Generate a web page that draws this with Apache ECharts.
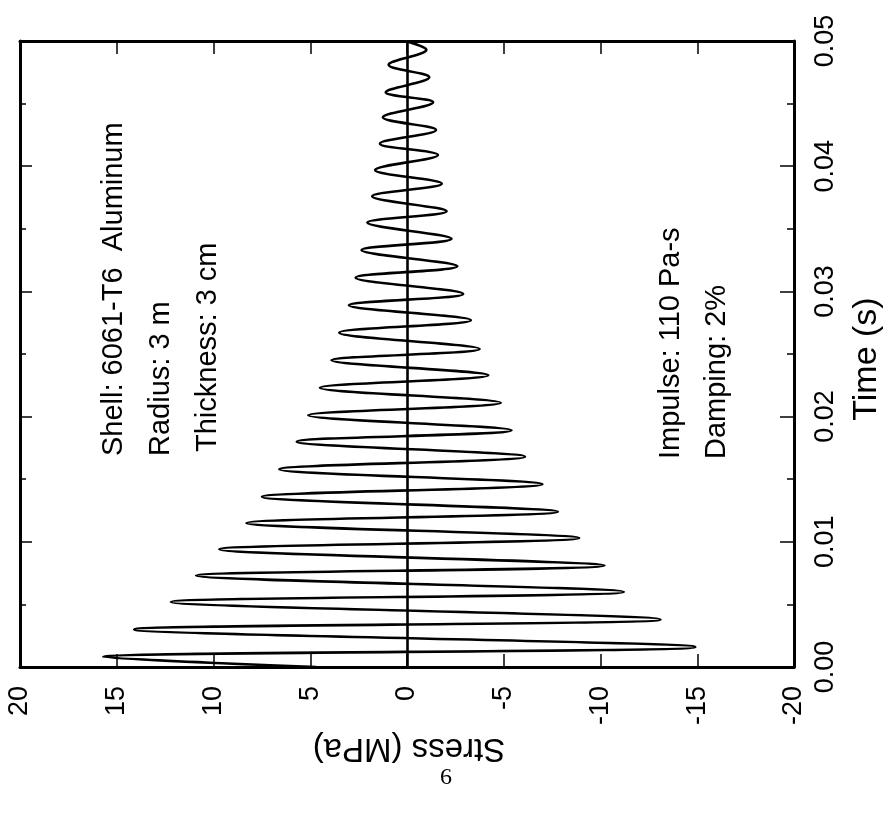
<!DOCTYPE html>
<html>
<head>
<meta charset="utf-8">
<script src="https://cdn.jsdelivr.net/npm/echarts@6/dist/echarts.min.js"></script>
<style>
  html, body { margin: 0; padding: 0; background: #fff; }
  #chart { width: 891px; height: 835px; }
</style>
</head>
<body>
<div id="chart"></div>
<script>
// ---- Data ----
// Time axis (s) and stress axis (MPa)
const timeTicks = [0, 0.01, 0.02, 0.03, 0.04, 0.05];
const stressTicks = [20, 15, 10, 5, 0, -5, -10, -15, -20];

// Start and end of the trace
const startPoint = [0.0, 4.7];     // [time, stress]
const endPoint = [0.05, 0.1];

// Positive (tensile) peaks
const posPeakTime = [0.0008, 0.0030, 0.0052, 0.0073, 0.0094, 0.0115, 0.0136, 0.0158, 0.0180, 0.0201,
                     0.0223, 0.0245, 0.0267, 0.0289, 0.0311, 0.0333, 0.0355, 0.0376, 0.0397, 0.0418,
                     0.0439, 0.0459, 0.0481];
const posPeakStress = [15.7, 14.1, 12.2, 10.9, 9.7, 8.3, 7.5, 6.6, 5.7, 5.1,
                       4.5, 3.9, 3.5, 3.0, 2.65, 2.35, 2.05, 1.8, 1.65, 1.4,
                       1.25, 1.1, 0.95];

// Negative (compressive) peaks
const negPeakTime = [0.0016, 0.0038, 0.0060, 0.0081, 0.0103, 0.0124, 0.0146, 0.0168, 0.0189, 0.0211,
                     0.0233, 0.0254, 0.0277, 0.0298, 0.0320, 0.0342, 0.0364, 0.0386, 0.0409, 0.0429,
                     0.0451, 0.0471, 0.0493];
const negPeakStress = [-14.9, -13.1, -11.2, -10.2, -8.9, -7.8, -7.0, -6.1, -5.4, -4.85,
                       -4.2, -3.75, -3.3, -2.9, -2.6, -2.3, -2.05, -1.8, -1.6, -1.5,
                       -1.35, -1.15, -1.0];

// Annotation texts
const noteLeft = ['Shell: 6061-T6  Aluminum', 'Radius: 3 m', 'Thickness: 3 cm'];
const noteRight = ['Impulse: 110 Pa-s', 'Damping: 2%'];
const xTitle = 'Time (s)';
const yTitle = 'Stress (MPa)';
const pageNo = '6';

// ---- Build series data (stress on horizontal axis, time on vertical) ----
const pts = [startPoint];
posPeakTime.forEach((t, i) => pts.push([t, posPeakStress[i]]));
negPeakTime.forEach((t, i) => pts.push([t, negPeakStress[i]]));
pts.push(endPoint);
pts.sort((a, b) => a[0] - b[0]);
const seriesData = pts.map(p => [p[1], p[0]]);

const FONT = '"Liberation Sans", Arial, Helvetica, sans-serif';
const black = '#000';

const chart = echarts.init(document.getElementById('chart'), null, { renderer: 'canvas' });

const stressAxisBase = {
  type: 'value', min: -20, max: 20, interval: 5, inverse: true,
  axisLine: { show: true, onZero: false, lineStyle: { color: black, width: 3 } },
  axisTick: { show: true, inside: true, length: 13, lineStyle: { color: black, width: 1.5 } },
  splitLine: { show: false }
};
const timeAxisBase = {
  type: 'value', min: 0, max: 0.05, interval: 0.01,
  axisLine: { show: true, onZero: false, lineStyle: { color: black, width: 3 } },
  axisTick: { show: true, inside: true, length: 14, lineStyle: { color: black, width: 1.5 } },
  minorTick: { show: true, splitNumber: 2, length: 7, lineStyle: { color: black, width: 1.5 } },
  splitLine: { show: false }, minorSplitLine: { show: false }
};

const option = {
  backgroundColor: '#fff',
  animation: false,
  grid: { left: 20, right: 97, top: 41, bottom: 168, containLabel: false },
  xAxis: [
    Object.assign({}, stressAxisBase, {
      position: 'bottom',
      axisLabel: { show: true, rotate: 90, margin: 19, fontSize: 27, fontFamily: FONT, color: black,
                   formatter: v => String(v) }
    }),
    Object.assign({}, stressAxisBase, { position: 'top', axisLabel: { show: false } })
  ],
  yAxis: [
    Object.assign({}, timeAxisBase, {
      position: 'right',
      axisLabel: { show: true, rotate: 90, margin: 18, fontSize: 27, fontFamily: FONT, color: black,
                   formatter: v => v.toFixed(2) }
    }),
    Object.assign({}, timeAxisBase, { position: 'left', axisLabel: { show: false },
      axisTick: { show: true, inside: true, length: 12, lineStyle: { color: black, width: 1.5 } },
      minorTick: { show: true, splitNumber: 2, length: 6, lineStyle: { color: black, width: 1.5 } } })
  ],
  series: [{
    type: 'line',
    xAxisIndex: 0, yAxisIndex: 0,
    data: seriesData,
    smooth: 0.36,
    symbol: 'none',
    clip: true,
    lineStyle: { color: black, width: 2.6 },
    markLine: {
      silent: true, symbol: 'none', animation: false,
      label: { show: false },
      lineStyle: { color: black, width: 2.6, type: 'solid' },
      data: [{ xAxis: 0 }]
    }
  }],
  graphic: [
    { type: 'text', x: 114, y: 456, rotation: Math.PI / 2,
      style: { text: noteLeft[0], font: '29px ' + FONT, fill: black, align: 'left', verticalAlign: 'middle' } },
    { type: 'text', x: 161, y: 456, rotation: Math.PI / 2,
      style: { text: noteLeft[1], font: '29px ' + FONT, fill: black, align: 'left', verticalAlign: 'middle' } },
    { type: 'text', x: 208, y: 452, rotation: Math.PI / 2,
      style: { text: noteLeft[2], font: '29px ' + FONT, fill: black, align: 'left', verticalAlign: 'middle' } },
    { type: 'text', x: 671, y: 459, rotation: Math.PI / 2,
      style: { text: noteRight[0], font: '29px ' + FONT, fill: black, align: 'left', verticalAlign: 'middle' } },
    { type: 'text', x: 717, y: 459, rotation: Math.PI / 2,
      style: { text: noteRight[1], font: '29px ' + FONT, fill: black, align: 'left', verticalAlign: 'middle' } },
    { type: 'text', x: 867, y: 359, rotation: Math.PI / 2,
      style: { text: xTitle, font: '34px ' + FONT, fill: black, align: 'center', verticalAlign: 'middle' } },
    { type: 'text', x: 409, y: 748, rotation: Math.PI,
      style: { text: yTitle, font: '33px ' + FONT, fill: black, align: 'center', verticalAlign: 'middle' } },
    { type: 'text', x: 446, y: 778,
      style: { text: pageNo, font: '24px "Liberation Serif", serif', fill: black, align: 'center', verticalAlign: 'middle' } }
  ]
};

chart.setOption(option);
</script>
</body>
</html>
